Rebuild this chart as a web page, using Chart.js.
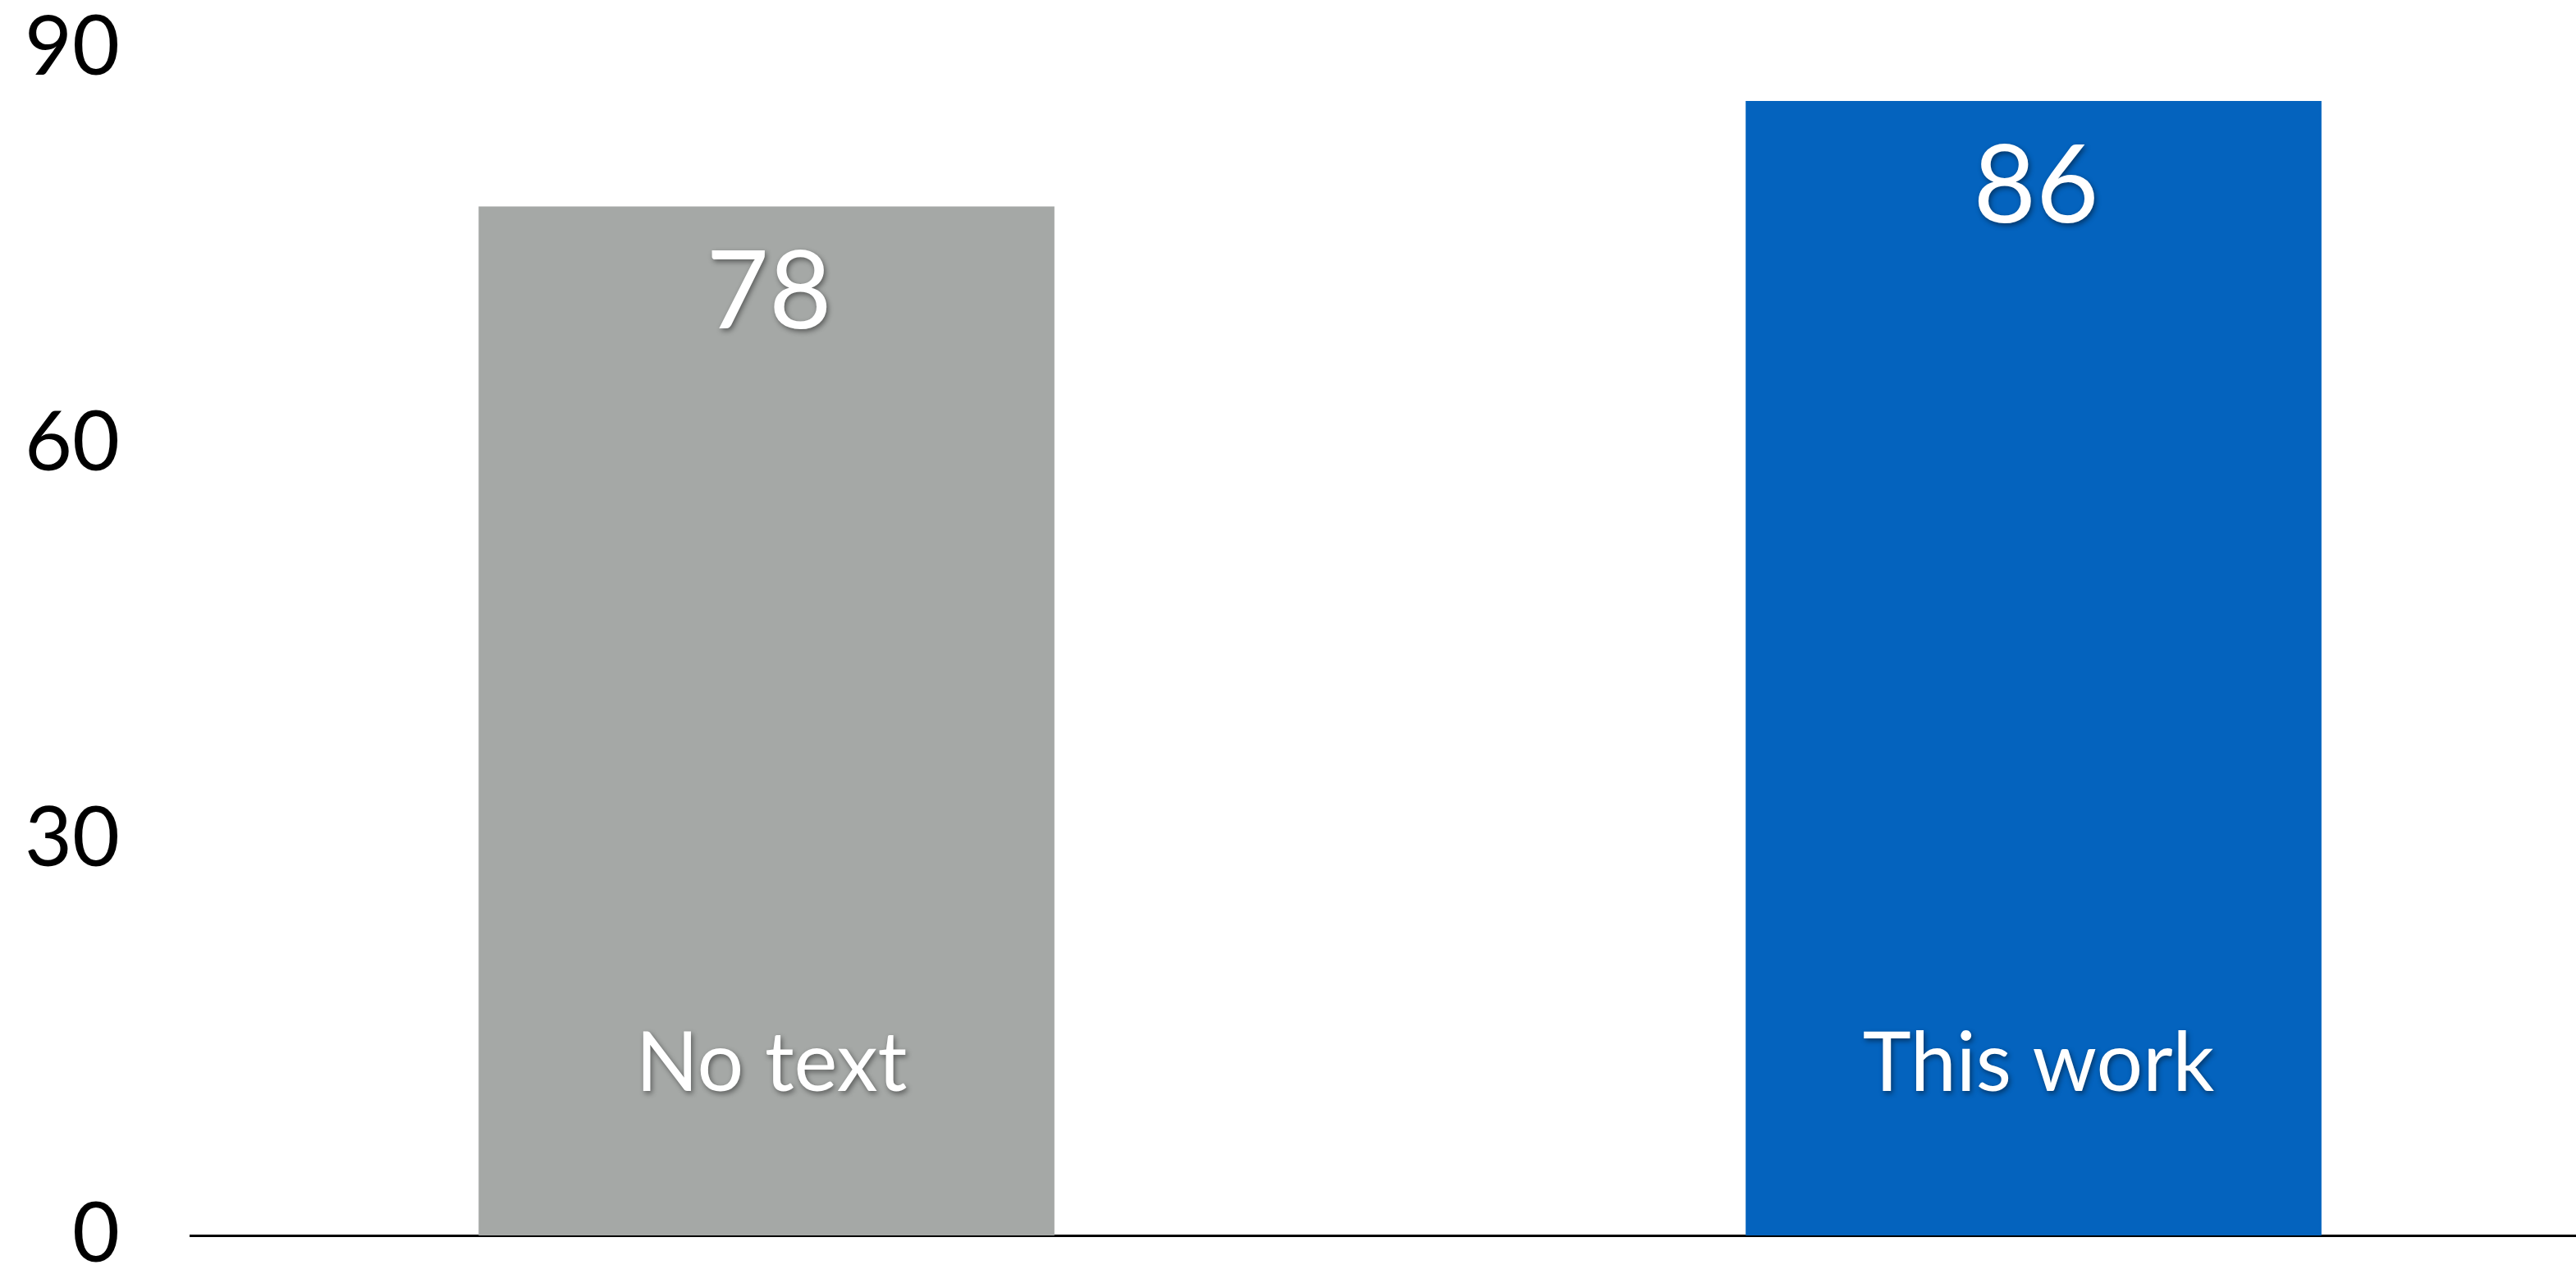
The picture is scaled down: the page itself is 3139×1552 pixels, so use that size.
<!DOCTYPE html>
<html>
<head>
<meta charset="utf-8">
<script src="https://cdn.jsdelivr.net/npm/chart.js@4/dist/chart.umd.min.js"></script>
<style>
  html, body { margin: 0; padding: 0; background: #ffffff; overflow: hidden; }
  #wrap { width: 3139px; height: 1552px; position: relative; }
</style>
</head>
<body>
<div id="wrap"><canvas id="c"></canvas></div>
<script>
const categories = ["No text", "This work"];
const values = [78, 86];
const barColors = ["#A5A8A6", "#0463BE"];
const yTicks = [0, 30, 60, 90];

const FONT = "Lato, 'Open Sans', sans-serif";

const labelPlugin = {
  id: 'barLabels',
  afterDatasetsDraw(chart) {
    const ctx = chart.ctx;
    const meta = chart.getDatasetMeta(0);
    const bottom = chart.chartArea.bottom;
    ctx.save();
    ctx.fillStyle = '#ffffff';
    ctx.textAlign = 'center';
    ctx.textBaseline = 'alphabetic';
    ctx.shadowColor = 'rgba(0,0,0,0.45)';
    ctx.shadowBlur = 6;
    ctx.shadowOffsetX = 2;
    ctx.shadowOffsetY = 3;
    meta.data.forEach((bar, i) => {
      ctx.font = "132px " + FONT;
      ctx.fillText(String(values[i]), bar.x + 3, bar.y + 148);
      ctx.font = "100px " + FONT;
      ctx.fillText(categories[i], bar.x + 6, bottom - 176);
    });
    ctx.restore();
  }
};

new Chart(document.getElementById('c'), {
  type: 'bar',
  data: {
    datasets: [{
      data: categories.map((c, i) => ({ x: i, y: values[i] })),
      backgroundColor: barColors,
      borderWidth: 0,
      barThickness: 701
    }]
  },
  options: {
    responsive: true,
    maintainAspectRatio: false,
    animation: false,
    events: [],
    layout: { padding: { left: 30, top: 59, right: 0, bottom: 47 } },
    plugins: { legend: { display: false }, tooltip: { enabled: false } },
    scales: {
      x: {
        type: 'linear',
        offset: false,
        min: -0.4547,
        max: 1.4281,
        grid: { display: false, drawTicks: false },
        border: { display: true, color: '#000000', width: 3 },
        ticks: { display: false, stepSize: 10 }
      },
      gap: {
        type: 'linear',
        position: 'left',
        weight: 0,
        display: true,
        afterFit(scale) { scale.width = 86; },
        grid: { display: false, drawTicks: false },
        border: { display: false },
        ticks: { display: false }
      },
      y: {
        position: 'left',
        weight: 1,
        min: 0,
        max: 90,
        afterBuildTicks(scale) { scale.ticks = yTicks.map(v => ({ value: v })); },
        afterFit(scale) { scale.width = 116; },
        grid: { display: false, drawTicks: false },
        border: { display: false },
        ticks: {
          padding: 0,
          color: '#000000',
          font: { family: FONT, size: 100, lineHeight: 0.9 }
        }
      }
    }
  },
  plugins: [labelPlugin]
});
</script>
</body>
</html>
